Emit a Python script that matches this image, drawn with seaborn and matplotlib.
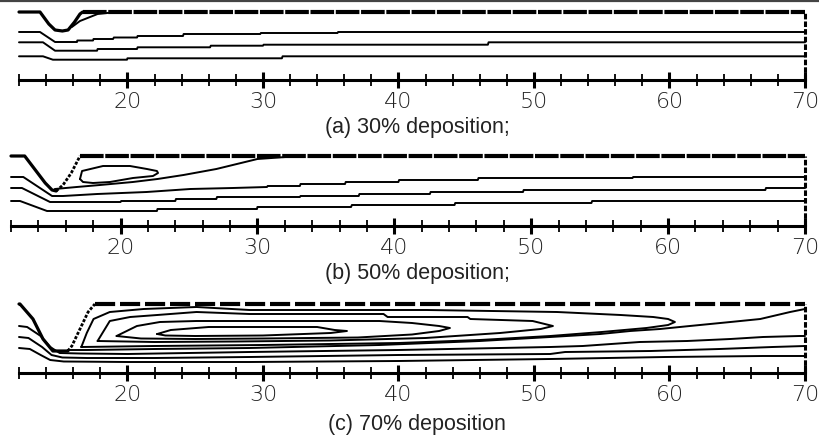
import pandas as pd
import seaborn as sns
import matplotlib.pyplot as plt
from matplotlib.lines import Line2D
from matplotlib.ticker import MultipleLocator

sns.set_style("white")
plt.rcParams["lines.scale_dashes"] = False

captions = ["(a) 30% deposition;", "(b) 50% deposition;", "(c) 70% deposition"]
major_ticks = [20, 30, 40, 50, 60, 70]
x_min, x_max = 12, 70
wall_heights = [68, 70, 69]

# ---- (a) 30% deposition ----
a_deposit = [(12, 68), (13.55, 68), (14.2, 56), (14.66, 50), (15.2, 49), (15.62, 50),
             (16.1, 58), (16.5, 66), (16.7, 68)]
a_recirc = [(15.9, 53), (16.5, 59), (17.8, 66), (19.2, 68)]
a_upper = [(12, 48), (13.55, 48), (14.66, 38), (16.28, 38), (16.3, 39.5), (17.46, 39.5),
           (17.5, 41), (18.94, 41), (19, 42.5), (20.71, 42.5), (20.75, 44), (24.1, 44),
           (24.15, 46), (29.8, 46), (29.85, 47), (35.5, 47), (35.55, 48), (70, 48)]
a_middle = [(12, 37.7), (13.77, 37.7), (14.66, 29.3), (17.76, 29.3), (17.8, 31), (20.71, 31),
            (20.75, 32.7), (26.1, 32.7), (26.15, 34.3), (30, 34.3), (30.05, 35.3), (46.6, 35.3),
            (46.65, 37.7), (70, 37.7)]
a_lower = [(12, 23.7), (13.77, 23.7), (14.5, 20.3), (19.97, 20.3), (20, 21.7), (31.4, 21.7),
           (31.45, 23.7), (70, 23.7)]

# ---- (b) 50% deposition ----
b_deposit = [(12, 70), (13, 70), (13.5, 61), (14, 52), (14.5, 43), (15, 36), (15.3, 35)]
b_deposit_rise = [(15.3, 35), (15.8, 41), (16.4, 53), (17.04, 70)]
b_eddy = [(17.04, 47), (17.19, 55), (18.72, 60), (20.69, 60), (21.93, 57), (22.66, 55),
          (22.74, 53), (22.37, 50), (20.91, 48), (19.23, 44), (17.99, 43), (17.26, 44), (17.04, 47)]
b_separation = [(15.2, 37), (16.8, 39), (18.5, 41), (20.9, 44), (22.7, 47), (24.6, 51),
                (27.0, 57), (30.0, 67), (33.1, 70)]
b_upper = [(12, 49), (12.9, 49), (15.0, 30), (15.8, 30), (18.3, 32), (21.9, 34), (25.1, 37),
           (28.2, 38), (30.7, 39), (30.75, 40), (33.1, 40), (33.15, 42), (36.4, 42), (36.45, 44),
           (40.3, 44), (40.35, 46), (46.1, 46), (46.15, 48), (57.4, 48), (57.45, 49), (70, 49)]
b_middle = [(12, 38), (12.8, 38), (14.85, 24), (20, 24), (20.05, 25), (24, 25), (24.05, 27),
            (27, 27), (27.05, 29), (33.1, 29), (33.15, 30), (37.4, 30), (37.45, 32), (42.6, 32),
            (42.65, 34), (49.4, 34), (49.45, 36), (67.1, 36), (67.15, 38), (70, 38)]
b_lower = [(12, 25), (12.66, 25), (14.63, 15), (22.66, 15), (22.7, 17), (29.97, 17), (30, 19),
           (36.84, 19), (36.9, 21), (44.4, 21), (44.45, 23), (54.4, 23), (54.45, 25), (70, 25)]

# ---- (c) 70% deposition ----
c_deposit = [(12, 69), (12.07, 69), (13.03, 54), (13.77, 34), (14.5, 22), (15.6, 22)]
c_deposit_rise = [(15.6, 22), (15.9, 27), (16.5, 44), (17.1, 61), (17.6, 69)]
c_eddy1 = [(16.6, 26), (17.0, 40), (17.5, 54), (18.7, 61), (21.2, 64), (25.1, 66), (29, 63),
           (42.1, 63), (51.7, 61), (56.4, 58), (58.8, 56), (59.9, 54), (60.4, 51), (59.9, 48),
           (58.3, 45), (55, 41), (51.2, 37), (46, 33), (40, 30), (30, 28), (22, 27), (16.6, 26)]
c_eddy2 = [(17.8, 32), (18.7, 52), (20.2, 56), (22.2, 58), (25.1, 61), (29, 59), (38.9, 59),
           (39.2, 56), (45.1, 56), (45.3, 54), (49.9, 52), (51.4, 47), (50.5, 44), (47.5, 40),
           (42, 35), (35, 32.5), (28, 31.5), (22, 31), (17.8, 32)]
c_eddy3 = [(19.2, 37), (20.7, 47), (22.4, 51), (25.1, 52), (34, 52), (38.6, 52), (41, 50),
           (43, 47), (43.8, 45), (43, 42), (41, 38.5), (37, 35.5), (30, 34.5), (25, 34),
           (21, 34.5), (19.2, 37)]
c_eddy4 = [(22.2, 39), (23.2, 43), (26, 46), (34, 46), (35.3, 43), (36.2, 42), (35, 40),
           (30, 37.5), (25, 37), (22.8, 37.5), (22.2, 39)]
c_separation = [(15.6, 23), (17, 23), (22, 24), (29, 25), (38.6, 28), (46, 32), (51.2, 36),
                (54.9, 39), (57.1, 42), (59.3, 44), (61.5, 47), (64.5, 51), (66.7, 54),
                (68.9, 61), (70, 64)]
c_upper = [(12, 47), (12.6, 46), (13.6, 37), (14.3, 26), (15.0, 20), (16.5, 19.5), (20, 19),
           (29, 21), (40, 23), (51.2, 26), (53.6, 27), (57.8, 31), (61.3, 32), (64.5, 34),
           (66.9, 36), (69.6, 37), (70, 37)]
c_middle = [(12, 36), (12.7, 35), (13.7, 26), (14.4, 18), (15.2, 15.5), (17, 15), (22, 15),
            (29, 16), (40, 18), (51.2, 19), (52.3, 21), (58.6, 22), (63.7, 24), (67.6, 26), (70, 27)]
c_lower = [(12, 25), (12.8, 24), (13.6, 18), (14.3, 13), (15.3, 11.5), (20, 11), (29, 11),
           (40, 12), (51.2, 14), (59.7, 16), (66.9, 17), (70, 17)]

panels = [
    {"deposit": [a_deposit], "dotted": [],
     "streams": [a_recirc, a_upper, a_middle, a_lower],
     "wall_start": 16.7, "wall_dash": (17, 1.2)},
    {"deposit": [b_deposit], "dotted": [b_deposit_rise],
     "streams": [b_eddy, b_separation, b_upper, b_middle, b_lower],
     "wall_start": 17.04, "wall_dash": (17, 1.2)},
    {"deposit": [c_deposit], "dotted": [c_deposit_rise],
     "streams": [c_eddy1, c_eddy2, c_eddy3, c_eddy4, c_separation, c_upper, c_middle, c_lower],
     "wall_start": 17.6, "wall_dash": (14.5, 3.5)},
]


def to_frame(lines):
    rows = []
    for i, pts in enumerate(lines):
        for x, y in pts:
            rows.append({"x": x, "y": y, "line": i})
    return pd.DataFrame(rows)


fig = plt.figure(figsize=(8.2, 4.39), dpi=100)

# axes boxes in pixels: left, right, axis-line row
boxes = [(19, 805, 81), (11, 805, 227), (19, 805, 374)]
caption_rows = [128, 274, 425]
W, H = 820, 439

for k, (panel, (px0, px1, prow), top) in enumerate(zip(panels, boxes, wall_heights)):
    ax = fig.add_axes([px0 / W, 1 - (prow + 1) / H, (px1 - px0) / W, 73 / H])
    ax.set_xlim(x_min, x_max)
    ax.set_ylim(-1, 72)

    common = dict(x="x", y="y", units="line", estimator=None, sort=False,
                  color="black", legend=False, ax=ax, clip_on=False)
    sns.lineplot(data=to_frame(panel["streams"]), linewidth=1.4, **common)
    sns.lineplot(data=to_frame(panel["deposit"]), linewidth=2.3, **common)
    if panel["dotted"]:
        sns.lineplot(data=to_frame(panel["dotted"]), linewidth=2.0,
                     linestyle=(0, (2.2, 1.2)), **common)
    # top wall and outlet
    wall = pd.DataFrame({"x": [panel["wall_start"], x_max], "y": [top, top], "line": 0})
    sns.lineplot(data=wall, linewidth=3.0, linestyle=(0, panel["wall_dash"]), **common)
    outlet = pd.DataFrame({"x": [x_max, x_max], "y": [0, top], "line": 0})
    sns.lineplot(data=outlet, linewidth=2.2, linestyle=(0, (4, 1.5)), **common)

    for side in ["left", "right", "top"]:
        ax.spines[side].set_visible(False)
    ax.spines["bottom"].set_position(("data", 0))
    ax.spines["bottom"].set_linewidth(2.2)
    ax.spines["bottom"].set_color("black")
    ax.set_yticks([])
    ax.set_xticks(major_ticks)
    ax.set_xticklabels([str(t) for t in major_ticks], fontsize=16,
                       fontweight="light", color="#222222")
    ax.xaxis.set_minor_locator(MultipleLocator(2))
    ax.tick_params(axis="x", which="major", direction="inout", length=11.5,
                   width=2.2, pad=2, color="black", bottom=True)
    ax.tick_params(axis="x", which="minor", direction="inout", length=8.5,
                   width=1.3, color="black", bottom=True)
    ax.set_xlabel("")
    ax.set_ylabel("")
    ax.patch.set_alpha(0)

    fig.text(417 / W, 1 - caption_rows[k] / H, captions[k], ha="center", va="center",
             fontsize=15.5, family="Liberation Sans", color="#222222")

# cropped frame edge at the very top of the picture
fig.add_artist(Line2D([0, 1], [1 - 1.5 / H, 1 - 1.5 / H], lw=1.6, color="#444444"))

fig.savefig("out.png", dpi=100)
